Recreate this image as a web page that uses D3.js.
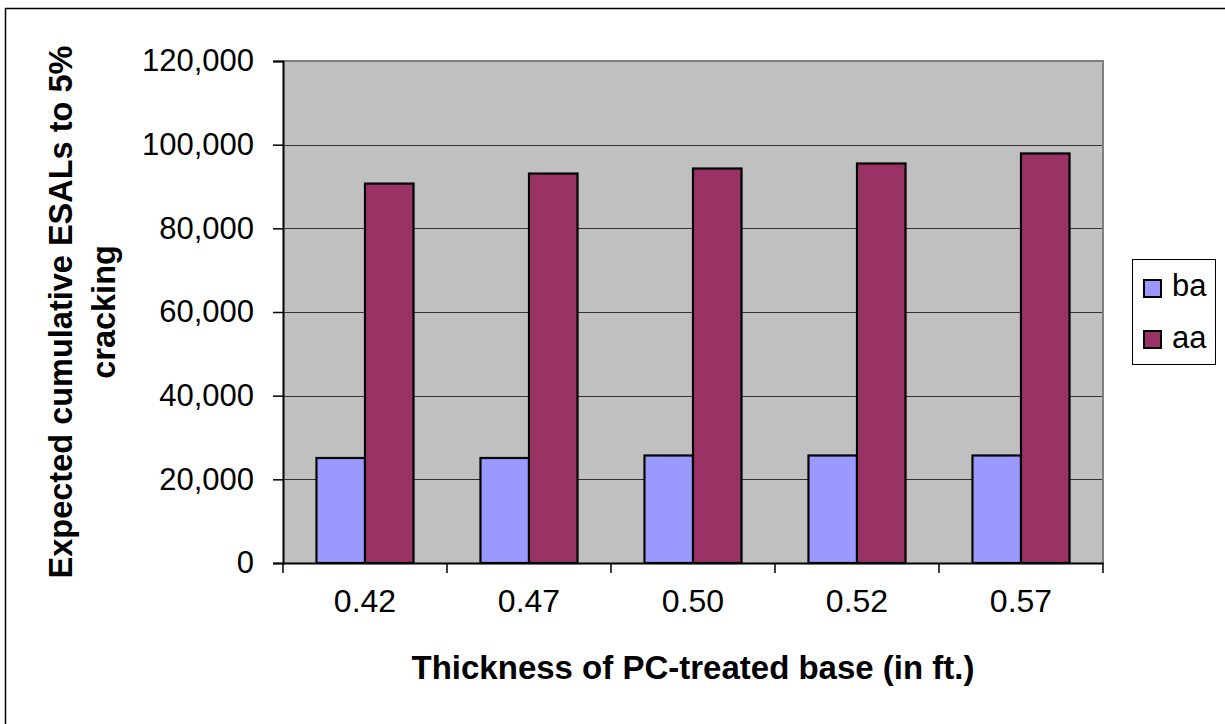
<!DOCTYPE html>
<html>
<head>
<meta charset="utf-8">
<script src="https://cdn.jsdelivr.net/npm/d3@7"></script>
<style>
  html, body { margin: 0; padding: 0; background: #fff; }
  svg { display: block; font-family: Arial, "Liberation Sans", sans-serif; }
</style>
</head>
<body>
<svg id="chart" width="1225" height="724"></svg>
<script>
const categories = ["0.42", "0.47", "0.50", "0.52", "0.57"];
const seriesNames = ["ba", "aa"];
const baValues = [25100, 25100, 25700, 25700, 25700];
const aaValues = [90700, 93100, 94300, 95500, 97900];
const yTicks = [0, 20000, 40000, 60000, 80000, 100000, 120000];
const xTitle = "Thickness of PC-treated base (in ft.)";
const yTitleLines = ["Expected cumulative ESALs to 5%", "cracking"];
const colors = { ba: "#9999FF", aa: "#993366" };

const svg = d3.select("#chart");
const plot = { left: 283, right: 1103, top: 61, bottom: 563 };

// outer border
svg.append("rect")
  .attr("x", 5.5).attr("y", 8.5)
  .attr("width", 1240).attr("height", 740)
  .attr("fill", "#fff").attr("stroke", "#000").attr("stroke-width", 1.5);

const x = d3.scaleBand().domain(categories).range([plot.left, plot.right]).paddingInner(0).paddingOuter(0);
const xInner = d3.scaleBand().domain(seriesNames).range([0, x.bandwidth()]).paddingInner(0).paddingOuter(0.69);
const y = d3.scaleLinear().domain([0, 120000]).range([plot.bottom, plot.top]);

// plot background
svg.append("rect")
  .attr("x", plot.left).attr("y", plot.top)
  .attr("width", plot.right - plot.left).attr("height", plot.bottom - plot.top)
  .attr("fill", "#C0C0C0");

// gridlines
svg.append("g").selectAll("line").data(yTicks.filter(d => d > 0 && d < 120000)).join("line")
  .attr("x1", plot.left).attr("x2", plot.right)
  .attr("y1", d => Math.round(y(d)) + 0.5).attr("y2", d => Math.round(y(d)) + 0.5)
  .attr("stroke", "#333").attr("stroke-width", 1);

// top & right border (gray)
svg.append("path")
  .attr("d", `M${plot.left},${plot.top} H${plot.right} V${plot.bottom}`)
  .attr("fill", "none").attr("stroke", "#808080").attr("stroke-width", 2);

// bars
const data = categories.map((c, i) => ({ cat: c, vals: [
  { key: "ba", value: baValues[i] }, { key: "aa", value: aaValues[i] } ] }));

const groups = svg.append("g").selectAll("g").data(data).join("g")
  .attr("transform", d => `translate(${x(d.cat)},0)`);
groups.selectAll("rect").data(d => d.vals).join("rect")
  .attr("x", d => xInner(d.key))
  .attr("y", d => y(d.value))
  .attr("width", xInner.bandwidth())
  .attr("height", d => y(0) - y(d.value))
  .attr("fill", d => colors[d.key])
  .attr("stroke", "#000").attr("stroke-width", 2.2);

// y axis
const yAxis = d3.axisLeft(y).tickValues(yTicks).tickSize(10).tickPadding(19)
  .tickFormat(d3.format(","));
const gy = svg.append("g").attr("transform", `translate(${plot.left},0)`).call(yAxis);
gy.select(".domain").attr("stroke", "#000").attr("stroke-width", 2);
gy.selectAll(".tick line").attr("stroke", "#000").attr("stroke-width", 1.5);
gy.selectAll(".tick text").attr("font-size", 31).attr("fill", "#000")
  .attr("font-family", "Arial, 'Liberation Sans', sans-serif");

// x axis
const xAxis = d3.axisBottom(x).tickSize(0).tickPadding(26);
const gx = svg.append("g").attr("transform", `translate(0,${plot.bottom})`).call(xAxis);
gx.select(".domain").attr("stroke", "#000").attr("stroke-width", 2);
gx.selectAll(".tick text").attr("font-size", 32).attr("fill", "#000")
  .attr("font-family", "Arial, 'Liberation Sans', sans-serif");
// x ticks at band boundaries
const bounds = categories.map(c => x(c)).concat([x(categories[categories.length - 1]) + x.bandwidth()]);
svg.append("g").selectAll("line").data(bounds).join("line")
  .attr("x1", d => d).attr("x2", d => d)
  .attr("y1", plot.bottom).attr("y2", plot.bottom + 10)
  .attr("stroke", "#000").attr("stroke-width", 1.5);

// x title
svg.append("text")
  .attr("x", (plot.left + plot.right) / 2).attr("y", 679)
  .attr("text-anchor", "middle").attr("font-size", 33).attr("font-weight", "bold")
  .text(xTitle);

// y title
const cy = (plot.top + plot.bottom) / 2;
[72, 115].forEach((bx, i) => {
  svg.append("text")
    .attr("transform", `translate(${bx},${cy}) rotate(-90)`)
    .attr("text-anchor", "middle").attr("font-size", 32.5).attr("font-weight", "bold")
    .text(yTitleLines[i]);
});

// legend
const lg = svg.append("g");
lg.append("rect").attr("x", 1132.5).attr("y", 259.5).attr("width", 83).attr("height", 105)
  .attr("fill", "#fff").attr("stroke", "#000").attr("stroke-width", 1);
const legendRows = [{ key: "ba", sy: 280, ty: 296 }, { key: "aa", sy: 331, ty: 348 }];
legendRows.forEach(r => {
  lg.append("rect").attr("x", 1144).attr("y", r.sy).attr("width", 17).attr("height", 17)
    .attr("fill", colors[r.key]).attr("stroke", "#000").attr("stroke-width", 2);
  lg.append("text").attr("x", 1172).attr("y", r.ty).attr("font-size", 31).text(r.key);
});
</script>
</body>
</html>
